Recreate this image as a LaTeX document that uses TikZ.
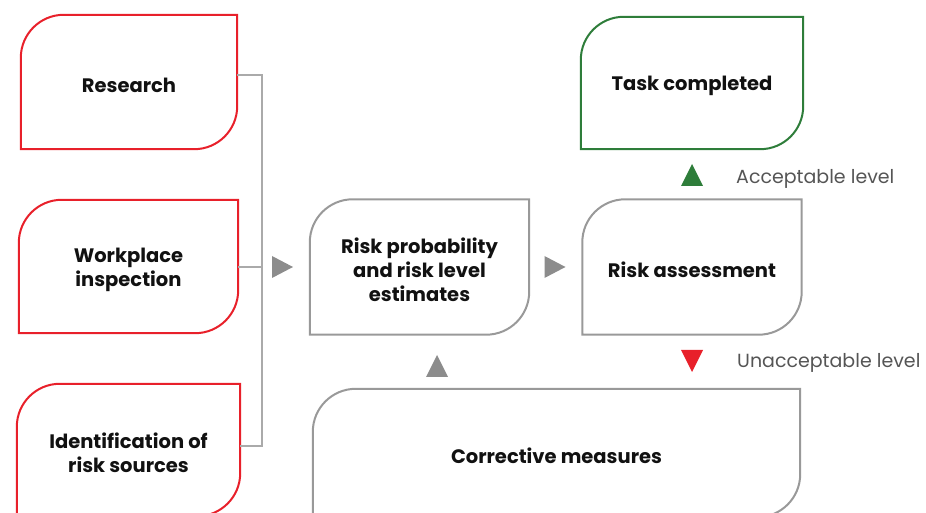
\documentclass[tikz,border=0pt]{standalone}
\usepackage{fontspec}
\setmainfont{Poppins}
\usetikzlibrary{calc}
\definecolor{bred}{HTML}{E8202A}
\definecolor{bgreen}{HTML}{2E7D3A}
\definecolor{bgray}{HTML}{999999}
\definecolor{agray}{HTML}{8C8C8C}
\definecolor{cgray}{HTML}{AAAAAA}
\definecolor{lgray}{HTML}{555555}
\definecolor{txt}{HTML}{111111}
\newcommand{\R}{43pt}
\newcommand{\leafshape}[2]{%
  \draw[#2, line width=2pt] ([yshift=3pt]#1.south west) -- ([yshift=3pt-\R]#1.north west)
    arc[start angle=180,end angle=90,radius=\R] -- ([yshift=3pt]#1.north east)
    -- ([yshift=3pt+\R]#1.south east) arc[start angle=0,end angle=-90,radius=\R] -- cycle;}
\newcommand{\triR}[3]{\fill[#3] (#1-10.5,#2+11) -- (#1+10.5,#2) -- (#1-10.5,#2-11) -- cycle;}
\newcommand{\triU}[3]{\fill[#3] (#1-11,#2-11) -- (#1,#2+11) -- (#1+11,#2-11) -- cycle;}
\newcommand{\triD}[3]{\fill[#3] (#1-11,#2+11) -- (#1,#2-11) -- (#1+11,#2+11) -- cycle;}
\tikzset{
  box/.style={inner sep=0pt, align=center, text=txt,
    font=\fontsize{19.5}{24}\selectfont\bfseries},
  conn/.style={draw=cgray, line width=1.3pt},
  lvl/.style={anchor=west, inner sep=0pt, text=lgray, font=\fontsize{19}{22}\selectfont}
}
\begin{document}
\begin{tikzpicture}[x=1pt,y=1pt]
\useasboundingbox (0,0) rectangle (926,513);
\clip (0,0) rectangle (926,513);
% nodes (y = 513 - ypx), text centres 3px below box centres
\node[box, minimum width=216pt, minimum height=134pt] (res) at (129,428) {Research};
\node[box, minimum width=219pt, minimum height=133pt] (wpi) at (128.5,243.5) {Workplace\\inspection};
\node[box, minimum width=223pt, minimum height=132pt] (idn) at (128.5,60) {Identification of\\risk sources};
\node[box, minimum width=219pt, minimum height=135pt] (rpe) at (419.5,243) {Risk probability\\and risk level\\estimates};
\node[box, minimum width=219pt, minimum height=135pt] (ras) at (692,243) {Risk assessment};
\node[box, minimum width=222pt, minimum height=132pt] (tsk) at (692,427) {Task completed};
\node[box, minimum width=487pt, minimum height=128pt] (cor) at (556.5,57) {Corrective measures};
\leafshape{res}{bred}
\leafshape{wpi}{bred}
\leafshape{idn}{bred}
\leafshape{rpe}{bgray}
\leafshape{ras}{bgray}
\leafshape{tsk}{bgreen}
\leafshape{cor}{bgray}
% bus connector
\coordinate (busT) at (262,438);
\coordinate (busB) at (262,67);
\draw[conn] ([yshift=10]res.east) -- (busT) -- (busB) -- ([yshift=7]idn.east);
\draw[conn] ([yshift=2.5]wpi.east) -- ([yshift=2.5]wpi.east -| busT);
% arrows
\triR{282.5}{246}{agray}
\triR{555}{246}{agray}
\triU{437}{147}{agray}
\triU{692}{338}{bgreen}
\triD{692}{152}{bred}
% labels
\node[lvl] (acc) at (736,334.5) {Acceptable level};
\node[lvl] (unacc) at (737,150.5) {Unacceptable level};
\end{tikzpicture}
\end{document}
